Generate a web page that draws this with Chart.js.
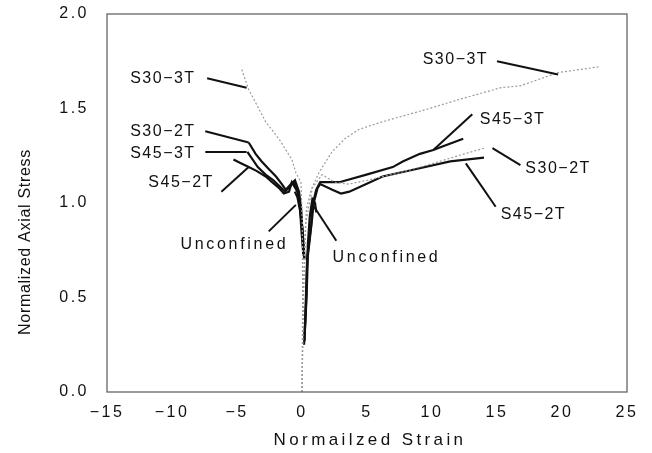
<!DOCTYPE html>
<html>
<head>
<meta charset="utf-8">
<script src="https://cdn.jsdelivr.net/npm/chart.js@4.4.1/dist/chart.umd.min.js"></script>
<style>
  html, body { margin: 0; background: #fff; }
  canvas { display: block; }
</style>
</head>
<body>
<canvas id="stressChart" width="652" height="453"></canvas>
<script>
// axis ticks
const strainTicks = [-15, -10, -5, 0, 5, 10, 15, 20, 25];
const stressTicks = [0, 0.5, 1.0, 1.5, 2.0];

// S30-3T (grey)
const s303tAxialStrain = [0, 0.1, 0.2, 0.35, 0.7, 1.3, 2.3, 3.3, 4.4, 6.2, 9.3, 12.2, 15.3, 16.8, 19.7, 22.8];
const s303tAxialStress = [0, 0.45, 0.8, 0.97, 1.07, 1.16, 1.27, 1.34, 1.39, 1.43, 1.49, 1.55, 1.61, 1.62, 1.69, 1.72];
const s303tLatStrain = [0, 0.05, 0.02, -0.08, -0.47, -0.78, -1.78, -2.8, -3.33, -4.1, -4.65];
const s303tLatStress = [0, 0.5, 0.9, 1.11, 1.16, 1.23, 1.34, 1.43, 1.5, 1.6, 1.71];

// S30-2T
const s302tAxialStrain = [0, 0.1, 0.3, 0.8, 1.55, 2.5, 3.6, 5.0, 7.5, 10.1, 12.5, 14.0];
const s302tAxialStress = [0, 0.5, 0.9, 1.08, 1.15, 1.11, 1.1, 1.12, 1.16, 1.21, 1.26, 1.29];
const s302tLatStrain = [0.16, 0, -0.08, -0.23, -0.54, -0.85, -1.24, -1.55, -2.0, -2.56, -3.1, -3.57, -4.1];
const s302tLatStress = [0.71, 0.89, 0.98, 1.06, 1.12, 1.1, 1.07, 1.1, 1.14, 1.18, 1.22, 1.26, 1.32];

// S45-3T
const s453tAxialStrain = [0.16, 0.31, 0.39, 0.7, 0.78, 1.09, 1.4, 2.87, 4.96, 6.98, 7.75, 9.07, 10.1, 10.85, 12.4];
const s453tAxialStress = [0.25, 0.47, 0.7, 0.88, 0.98, 1.07, 1.11, 1.11, 1.15, 1.19, 1.22, 1.26, 1.28, 1.3, 1.34];
const s453tLatStrain = [0.12, 0, -0.1, -0.25, -0.6, -0.9, -1.3, -1.6, -2.2, -2.8, -3.4, -4.2];
const s453tLatStress = [0.72, 0.88, 0.97, 1.04, 1.11, 1.09, 1.06, 1.08, 1.12, 1.15, 1.19, 1.27];

// S45-2T
const s452tAxialStrain = [0.2, 0.35, 0.45, 0.75, 0.9, 1.2, 1.4, 2.33, 3.0, 3.64, 6.2, 8.8, 11.4, 14.0];
const s452tAxialStress = [0.3, 0.5, 0.72, 0.9, 1.0, 1.08, 1.1, 1.07, 1.05, 1.06, 1.14, 1.18, 1.22, 1.24];
const s452tLatStrain = [0.1, -0.05, -0.15, -0.35, -0.78, -1.0, -1.4, -1.78, -2.3, -2.79, -3.5, -4.1, -4.7, -5.27];
const s452tLatStress = [0.73, 0.86, 0.97, 1.06, 1.11, 1.06, 1.05, 1.08, 1.11, 1.14, 1.17, 1.19, 1.21, 1.23];

// Unconfined
const unconfAxialStrain = [0.2, 0.3, 0.45, 0.6, 0.8, 1.0, 1.1];
const unconfAxialStress = [0.27, 0.5, 0.78, 0.93, 1.02, 1.0, 0.95];
const unconfLatStrain = [0.2, 0.05, -0.15, -0.35, -0.55];
const unconfLatStress = [0.7, 0.85, 0.96, 1.03, 1.06];

// curve labels: text anchor and leader line, in data units
const curveLabels = [
  { text: "S30\u22123T", at: [-10.7, 1.66], from: [-7.3, 1.66], to: [-4.26, 1.61] },
  { text: "S30\u22122T", at: [-10.7, 1.38], from: [-7.44, 1.38], to: [-4.1, 1.32] },
  { text: "S45\u22123T", at: [-10.7, 1.26], from: [-7.44, 1.27], to: [-4.26, 1.27] },
  { text: "S45\u22122T", at: [-9.3, 1.11], from: [-6.2, 1.06], to: [-4.1, 1.19] },
  { text: "Unconfined", at: [-5.2, 0.78], from: [-2.56, 0.85], to: [-0.47, 0.99], wide: true },
  { text: "Unconfined", at: [6.5, 0.71], from: [2.64, 0.8], to: [0.93, 0.98], wide: true },
  { text: "S30\u22123T", at: [11.8, 1.76], from: [15.0, 1.75], to: [19.7, 1.68] },
  { text: "S45\u22123T", at: [16.2, 1.44], from: [13.1, 1.47], to: [10.1, 1.28] },
  { text: "S30\u22122T", at: [19.7, 1.18], from: [14.65, 1.29], to: [16.8, 1.2] },
  { text: "S45\u22122T", at: [17.8, 0.94], from: [12.6, 1.21], to: [14.9, 0.98] }
];

const zip = (xs, ys) => xs.map((x, i) => ({ x, y: ys[i] }));

const grey = { borderColor: "#9c9c9c", borderWidth: 1.2, borderDash: [2, 2] };
const black = { borderColor: "#111", borderWidth: 2.2 };

const datasets = [
  { data: zip(s303tAxialStrain, s303tAxialStress), ...grey },
  { data: zip(s303tLatStrain, s303tLatStress), ...grey },
  { data: zip(s302tAxialStrain, s302tAxialStress), ...grey },
  { data: zip(s302tLatStrain, s302tLatStress), ...black },
  { data: zip(s453tAxialStrain, s453tAxialStress), ...black },
  { data: zip(s453tLatStrain, s453tLatStress), ...black },
  { data: zip(s452tAxialStrain, s452tAxialStress), ...black },
  { data: zip(s452tLatStrain, s452tLatStress), ...black },
  { data: zip(unconfAxialStrain, unconfAxialStress), ...black },
  { data: zip(unconfLatStrain, unconfLatStress), ...black }
].map((d) => ({ ...d, showLine: true, pointRadius: 0, tension: 0, fill: false }));

const fontFamily = "'Liberation Sans', Arial, sans-serif";

// scale padding would otherwise push the plot area down
const noScalePadding = (s) => {
  s.paddingTop = 0;
  s.paddingBottom = 0;
  s.paddingLeft = 0;
  s.paddingRight = 0;
};

const annotations = {
  id: "annotations",
  beforeDraw(chart) {
    chart.ctx.letterSpacing = "2.5px";
  },
  beforeDatasetsDraw(chart) {
    chart.ctx.letterSpacing = "0px";
  },
  afterDraw(chart) {
    const { ctx, chartArea: a, scales: { x, y } } = chart;
    ctx.save();

    // plot frame
    ctx.setLineDash([]);
    ctx.strokeStyle = "#666";
    ctx.lineWidth = 1.3;
    ctx.strokeRect(a.left, a.top, a.right - a.left, a.bottom - a.top);

    // leader lines
    ctx.strokeStyle = "#111";
    ctx.lineWidth = 2;
    curveLabels.forEach((l) => {
      ctx.beginPath();
      ctx.moveTo(x.getPixelForValue(l.from[0]), y.getPixelForValue(l.from[1]));
      ctx.lineTo(x.getPixelForValue(l.to[0]), y.getPixelForValue(l.to[1]));
      ctx.stroke();
    });

    // label text
    ctx.fillStyle = "#111";
    ctx.textAlign = "center";
    ctx.textBaseline = "middle";
    ctx.font = "16px " + fontFamily;
    curveLabels.forEach((l) => {
      ctx.letterSpacing = l.wide ? "2.7px" : "1.5px";
      ctx.fillText(l.text, x.getPixelForValue(l.at[0]), y.getPixelForValue(l.at[1]));
    });

    // axis titles
    ctx.font = "17px " + fontFamily;
    ctx.letterSpacing = "3.4px";
    ctx.fillText("Normailzed Strain", 370, 440);

    ctx.translate(26, 242);
    ctx.rotate(-Math.PI / 2);
    ctx.font = "16px " + fontFamily;
    ctx.letterSpacing = "0.7px";
    ctx.fillText("Normalized Axial Stress", 0, 0);

    ctx.restore();
  }
};

new Chart(document.getElementById("stressChart"), {
  type: "scatter",
  data: { datasets },
  options: {
    responsive: false,
    animation: false,
    layout: { padding: { top: 14, right: 25, left: 0, bottom: 0 } },
    plugins: { legend: { display: false }, tooltip: { enabled: false } },
    scales: {
      x: {
        type: "linear",
        min: strainTicks[0],
        max: strainTicks[strainTicks.length - 1],
        afterBuildTicks: (s) => { s.ticks = strainTicks.map((v) => ({ value: v })); },
        afterFit: (s) => { s.height = 61; noScalePadding(s); },
        grid: { display: false, drawTicks: false },
        border: { display: false },
        ticks: {
          padding: 11,
          color: "#111",
          font: { family: fontFamily, size: 16 },
          callback: (v) => (v < 0 ? "\u2212" + Math.abs(v) : String(v))
        }
      },
      y: {
        type: "linear",
        min: stressTicks[0],
        max: stressTicks[stressTicks.length - 1],
        afterBuildTicks: (s) => { s.ticks = stressTicks.map((v) => ({ value: v })); },
        afterFit: (s) => { s.width = 107; noScalePadding(s); },
        grid: { display: false, drawTicks: false },
        border: { display: false },
        ticks: {
          padding: 18,
          color: "#111",
          font: { family: fontFamily, size: 16 },
          callback: (v) => v.toFixed(1)
        }
      }
    }
  },
  plugins: [annotations]
});
</script>
</body>
</html>
